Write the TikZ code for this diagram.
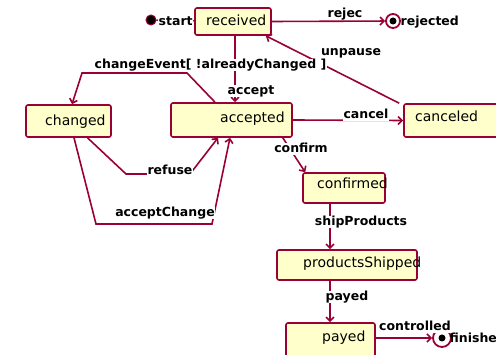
\documentclass[tikz,border=0pt]{standalone}
\usepackage{fontspec}
\setmainfont{DejaVu Sans}
\usetikzlibrary{arrows.meta}
\definecolor{umlred}{HTML}{990033}
\definecolor{umlfill}{HTML}{FFFFCC}
\begin{document}
\begin{tikzpicture}[x=1pt,y=-1pt,
  statebox/.style={draw=umlred, fill=umlfill, line width=1.6pt, rounded corners=2pt, inner sep=0pt},
  stext/.style={font=\fontsize{14}{16}\selectfont, inner sep=0pt, anchor=west, text height=10pt, text depth=3pt},
  lbl/.style={font=\bfseries\fontsize{12.5}{14}\selectfont, inner sep=0.5pt, fill=white, text height=9pt, text depth=2.5pt},
  edge/.style={draw=umlred, line width=1.6pt, -{Straight Barb[length=4pt,width=8pt]}},
  initial/.style={circle, fill=black, draw=umlred, line width=1pt, minimum size=10pt, inner sep=0pt},
  final/.style={circle, draw=umlred, fill=white, line width=1.8pt, inner sep=0pt,
    path picture={\fill[black] (path picture bounding box.center) circle (3.5pt);}},
]
\useasboundingbox (0,0) rectangle (496,355);

% states
\node[statebox, minimum width=76pt, minimum height=27pt] (received) at (233,21.5) {};
\node[statebox, minimum width=85pt, minimum height=32pt] (changed) at (68.5,121) {};
\node[statebox, minimum width=121pt, minimum height=34pt] (accepted) at (231.5,120) {};
\node[statebox, minimum width=106pt, minimum height=33pt] (canceled) at (457,120.5) {};
\node[statebox, minimum width=82pt, minimum height=30pt] (confirmed) at (344,188) {};
\node[statebox, minimum width=140pt, minimum height=30pt] (shipped) at (347,265) {};
\node[statebox, minimum width=89pt, minimum height=42pt] (payed) at (330.5,344) {};

\node[stext] (received-t) at (206,22) {received};
\node[stext] (changed-t) at (45,122) {changed};
\node[stext] (accepted-t) at (220,119) {accepted};
\node[stext] (canceled-t) at (415,118) {canceled};
\node[stext] (confirmed-t) at (317,185) {confirmed};
\node[stext] (shipped-t) at (303,264) {productsShipped};
\node[stext] (payed-t) at (322,338) {payed};

% pseudo states
\node[initial] (start) at (151,20) {};
\node[final, minimum size=14pt] (rejected) at (393,21) {};
\node[final, minimum size=18pt] (finished) at (442,338) {};

% bend points
\coordinate (c1) at (187,73);
\coordinate (c2) at (82,73);
\coordinate (r1) at (126,174);
\coordinate (r2) at (190,174);
\coordinate (a1) at (96,224);
\coordinate (a2) at (212,224);

% transitions
\draw[edge] (start) -- (received);
\draw[edge] (received.east) -- (rejected);
\draw[edge] ([xshift=2pt]received.south) -- ([xshift=3.5pt]accepted.north);
\draw[edge] ([xshift=-4pt]canceled.north west) -- ([xshift=-6pt]received.south east);
\draw[edge] (accepted.east) -- (canceled.west);
\draw[edge] ([xshift=-10pt]accepted.south east) -- ([xshift=3pt]confirmed.north west);
\draw[edge] ([xshift=-16.5pt]accepted.north) -- (c1) -- (c2) -- ([xshift=3.5pt]changed.north);
\draw[edge] ([xshift=19pt]changed.south) -- (r1) -- (r2) -- ([xshift=-13.5pt]accepted.south);
\draw[edge] ([xshift=5.5pt]changed.south) -- (a1) -- (a2) -- ([xshift=-1.5pt]accepted.south);
\draw[edge] ([xshift=-14pt]confirmed.south) -- ([xshift=-17pt]shipped.north);
\draw[edge] ([xshift=-17pt]shipped.south) -- ([xshift=-0.5pt]payed.north);
\draw[edge] (payed.east |- finished) -- (finished);

% labels
\node[lbl, anchor=west] (start-l) at (158,22) {start};
\node[lbl, anchor=west, fill=none] (rejected-l) at (400,22) {rejected};
\node[lbl, anchor=west, fill=none] (finished-l) at (449,339) {finished};
\node[lbl] (l-rejec) at (345,14) {rejec};
\node[lbl] (l-unpause) at (351,52) {unpause};
\node[lbl] (l-accept) at (251,91) {accept};
\node[lbl, anchor=west] (l-change) at (94,65) {changeEvent[ !alreadyChanged ]};
\node[lbl] (l-cancel) at (366,115) {cancel};
\node[lbl] (l-confirm) at (301,149) {confirm};
\node[lbl] (l-refuse) at (170,171) {refuse};
\node[lbl] (l-acceptchange) at (165,213) {acceptChange};
\node[lbl] (l-ship) at (361,222) {shipProducts};
\node[lbl] (l-payed) at (347,297) {payed};
\node[lbl] (l-controlled) at (415,327) {controlled};
\end{tikzpicture}
\end{document}
